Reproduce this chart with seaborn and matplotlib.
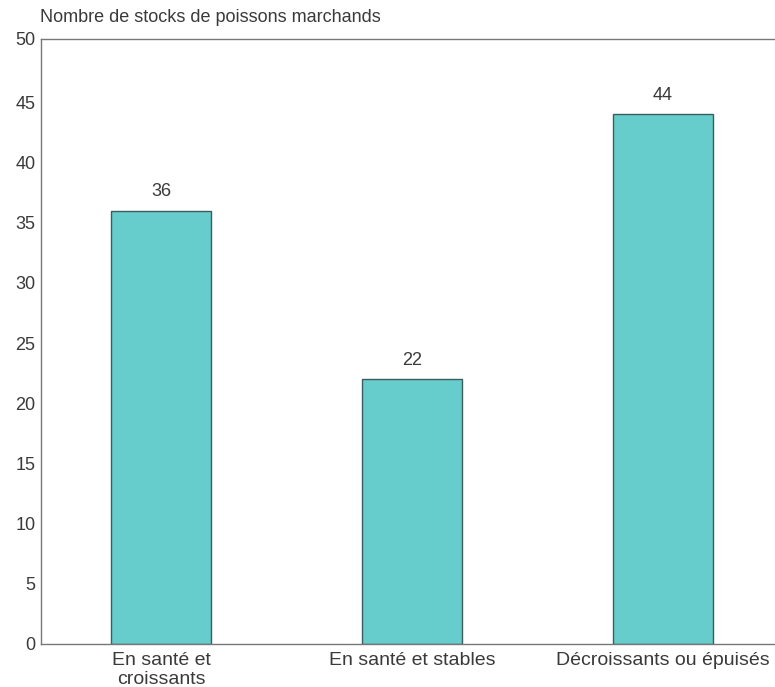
import matplotlib
matplotlib.use("Agg")
import matplotlib.pyplot as plt
import seaborn as sns
import pandas as pd

categories = ["En santé et\ncroissants", "En santé et stables", "Décroissants ou épuisés"]
values = [36, 22, 44]
yticks = [0, 5, 10, 15, 20, 25, 30, 35, 40, 45]
ytick_labels = ["0", "5", "10", "15", "20", "25", "30", "35", "40", "45", "50"]
title = "Nombre de stocks de poissons marchands"

sns.set_style("white")
plt.rcParams["font.family"] = ["Liberation Sans", "DejaVu Sans"]

df = pd.DataFrame({"categorie": categories, "stocks": values})

fig = plt.figure(figsize=(7.75, 6.87), dpi=100)
ax = fig.add_axes([41 / 775, 1 - 644 / 687, 1 - 41 / 775, (644 - 38.5) / 687])

sns.barplot(data=df, x="categorie", y="stocks", color="#66CCCC", width=0.4,
            edgecolor="#3d5c5c", linewidth=1.0, saturation=1, ax=ax)

for i, v in enumerate(values):
    ax.text(i, v + 0.85, f"{v}", ha="center", va="bottom", fontsize=13, color="#3a3a3a")

# the frame top sits a touch above the 50 mark
y_top = 50.3
ax.set_ylim(0, y_top)
ax.set_xlim(-0.478, 2.446)
ax.set_yticks(yticks + [y_top])
ax.set_yticklabels(ytick_labels, fontsize=13, color="#3a3a3a")
ax.tick_params(axis="y", direction="in", length=10, width=0.8, color="#555555", pad=4)
ax.tick_params(axis="x", length=0, pad=6, labelsize=14, labelcolor="#3a3a3a")
for lbl in ax.get_xticklabels():
    lbl.set_linespacing(1.12)
ax.set_xlabel("")
ax.set_ylabel("")

for side in ["left", "top", "bottom"]:
    ax.spines[side].set_visible(True)
    ax.spines[side].set_color("#777777")
    ax.spines[side].set_linewidth(1.0)
    ax.spines[side].set_linestyle((0, (2, 1)))
ax.spines["right"].set_visible(False)

fig.text(40 / 775, 1 - 18 / 687, title, ha="left", va="center", fontsize=13, color="#3a3a3a")

fig.savefig("out.png", dpi=100)
